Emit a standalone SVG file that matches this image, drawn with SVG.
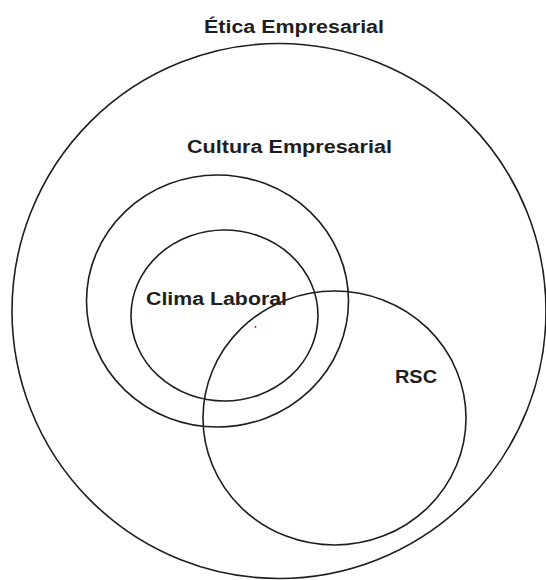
<svg xmlns="http://www.w3.org/2000/svg" width="546" height="580" viewBox="0 0 546 580">
<style>
.c{fill:none;stroke:#1e1e1e;stroke-width:1.6}
.t{font-family:"Liberation Sans",Arial,sans-serif;font-weight:bold;font-size:18px;fill:#1e1e1e;text-anchor:middle}
</style>
<rect width="546" height="580" fill="#ffffff"/>
<g id="etica">
<ellipse class="c" cx="279" cy="311" rx="267" ry="267.5"/>
<text class="t" x="294" y="33" textLength="180" lengthAdjust="spacingAndGlyphs">Ética Empresarial</text>
</g>
<g id="cultura">
<ellipse class="c" cx="217.5" cy="301" rx="131" ry="126"/>
<text class="t" x="289.5" y="153" textLength="205" lengthAdjust="spacingAndGlyphs">Cultura Empresarial</text>
</g>
<g id="clima">
<ellipse class="c" cx="224.5" cy="315.5" rx="93.5" ry="85.5"/>
<text class="t" x="216.5" y="305" textLength="141" lengthAdjust="spacingAndGlyphs">Clima Laboral</text>
</g>
<g id="rsc">
<ellipse class="c" cx="334.5" cy="418" rx="131.5" ry="127"/>
<text class="t" x="416" y="383" textLength="42" lengthAdjust="spacingAndGlyphs">RSC</text>
</g>
<g id="connectors"></g>
<circle cx="255.5" cy="327" r="0.9" fill="#ff0000"/>
</svg>
